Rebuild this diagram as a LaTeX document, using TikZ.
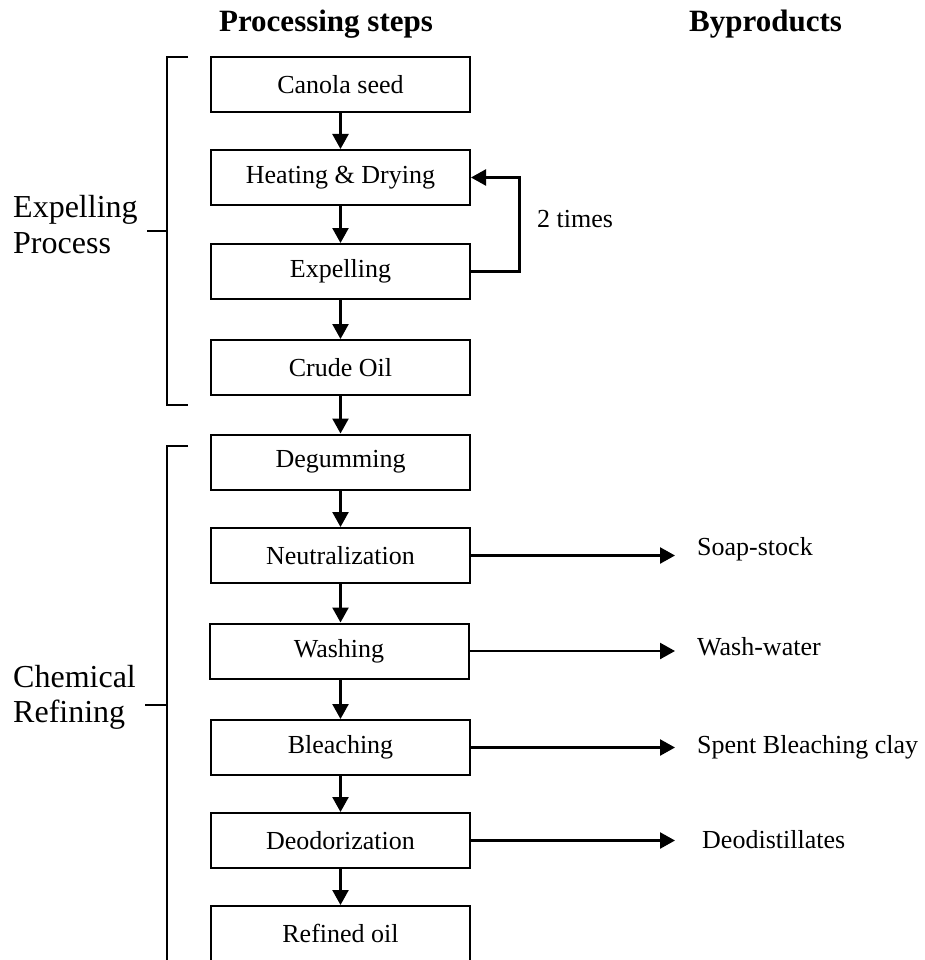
\documentclass[tikz,border=0pt]{standalone}
\usepackage{fontspec}
\setmainfont{Liberation Serif}
\usetikzlibrary{arrows.meta}
\begin{document}
\begin{tikzpicture}[x=1pt,y=-1pt,
  stepbox/.style={draw, line width=2pt, minimum width=259pt, minimum height=55pt,
    inner sep=0pt, font=\fontsize{26}{30}\selectfont},
  flow/.style={line width=2.4pt, -{Triangle[length=15pt,width=16pt]}},
  side/.style={anchor=base west, inner sep=0pt, font=\fontsize{26}{30}\selectfont},
  head/.style={anchor=base, inner sep=0pt, font=\fontsize{31}{35}\selectfont\bfseries},
  group/.style={anchor=base west, inner sep=0pt, font=\fontsize{32}{36}\selectfont},
  brace/.style={line width=2pt}]
\useasboundingbox (0,0) rectangle (925,960);
\clip (0,0) rectangle (925,960);

% column headings
\node[head] (hsteps) at (326,32) {Processing steps};
\node[head, anchor=base west] (hbyp) at (689,32) {Byproducts};

% processing steps
\node[stepbox] (seed)  at (340.5,84.5)  {Canola seed};
\node[stepbox] (heat)  at (340.5,177.5) {Heating \& Drying};
\node[stepbox] (expel) at (340.5,271.5) {Expelling};
\node[stepbox] (crude) at (340.5,367.5) {Crude Oil};
\node[stepbox] (degum) at (340.5,462)   {Degumming};
\node[stepbox] (neut)  at (340.5,555.5) {Neutralization};
\node[stepbox] (wash)  at (339,651)     {Washing};
\node[stepbox] (bleach) at (340.5,747.5) {Bleaching};
\node[stepbox] (deodor) at (340.5,840.5) {Deodorization};
\node[stepbox] (refined) at (340.5,933.5) {Refined oil};

% main flow
\draw[flow] (seed.south) -- (heat.north);
\draw[flow] (heat.south) -- (expel.north);
\draw[flow] (expel.south) -- (crude.north);
\draw[flow] (crude.south) -- (degum.north);
\draw[flow] (degum.south) -- (neut.north);
\draw[flow] (neut.south) -- (wash.north -| neut.south);
\draw[flow] (wash.south -| bleach.north) -- (bleach.north);
\draw[flow] (bleach.south) -- (deodor.north);
\draw[flow] (deodor.south) -- (refined.north);

% repeated expelling loop
\draw[flow] (expel.east) -- ++(48.5,0) |- (heat.east);
\node[side] (times) at (537,227) {2 times};

% byproducts
\node[side] (soap)  at (697,555) {Soap-stock};
\node[side] (wwater) at (697,655) {Wash-water};
\node[side] (clay)  at (697,753) {Spent Bleaching clay};
\node[side] (deodist) at (702,848) {Deodistillates};
\draw[flow, shorten >=22pt] (neut.east) -- (neut.east -| soap.west);
\draw[flow, shorten >=22pt] (wash.east) -- (wash.east -| wwater.west);
\draw[flow, shorten >=22pt] (bleach.east) -- (bleach.east -| clay.west);
\draw[flow, shorten >=27pt] (deodor.east) -- (deodor.east -| deodist.west);

% stage brackets
\draw[brace] (188,57) -- (167,57) -- (167,405) -- (188,405);
\draw[brace] (147,231) -- (167,231);
\node[group] (gexp1) at (13,217) {Expelling};
\node[group] (gexp2) at (13,253) {Process};

\draw[brace] (188,446) -- (167,446) -- (167,970);
\draw[brace] (145,705) -- (167,705);
\node[group] (gchem1) at (13,687) {Chemical};
\node[group] (gchem2) at (13,722) {Refining};
\end{tikzpicture}
\end{document}
